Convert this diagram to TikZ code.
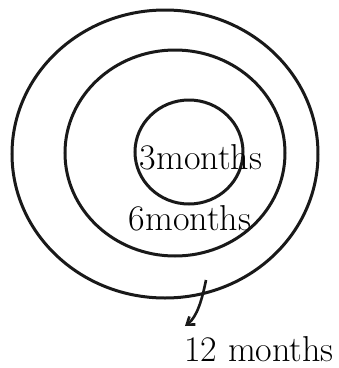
\documentclass[tikz,border=0pt]{standalone}
\usetikzlibrary{arrows.meta}
\begin{document}
\begin{tikzpicture}[x=1pt,y=-1pt,
  ring/.style={draw=black!90,line width=3pt},
  lbl/.style={font=\fontsize{36}{40}\selectfont,inner sep=0pt},
  pointer/.style={draw=black!90,line width=2.6pt,-{Straight Barb[length=7pt,width=10pt]}}]
\useasboundingbox (0,0) rectangle (339,368);
\draw[ring] (165,154) ellipse [x radius=153,y radius=144];
\draw[ring] (175,153) ellipse [x radius=110,y radius=103];
\draw[ring] (189,152) ellipse [x radius=54,y radius=52];
\node[lbl] (three) at (201,157) {3months};
\node[lbl] (six) at (190,218) {6months};
\node[lbl,anchor=base] (twelve) at (259,361) {12 months};
\coordinate (hit) at (206,280);
\draw[pointer] (hit) .. controls (202,300) and (197,317) .. (185,326);
\end{tikzpicture}
\end{document}
